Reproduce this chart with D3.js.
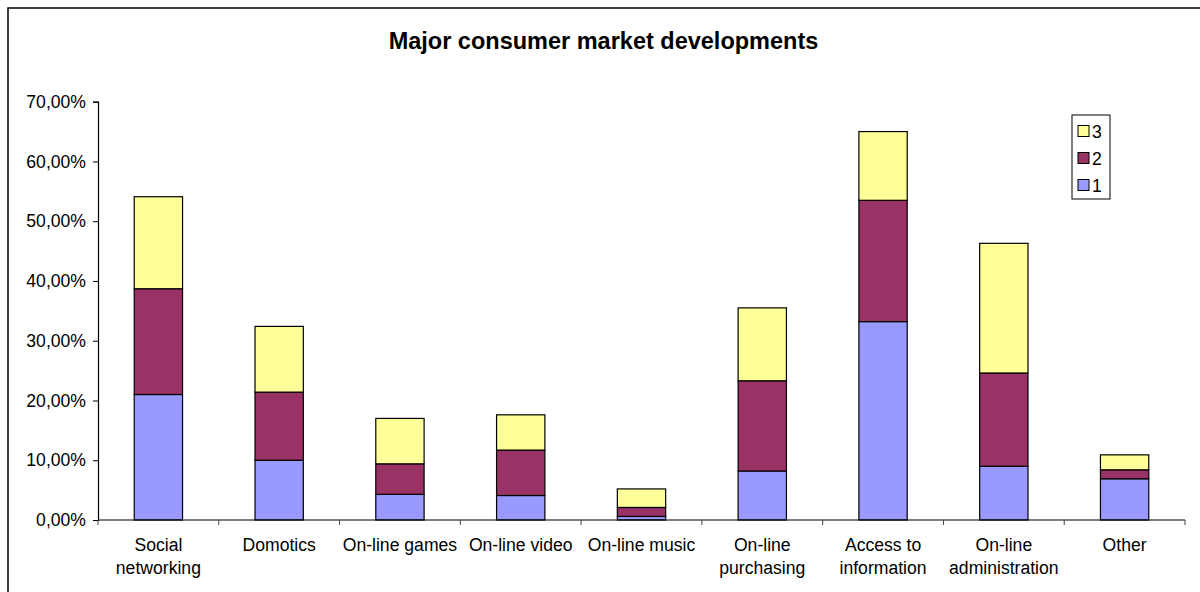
<!DOCTYPE html>
<html>
<head>
<meta charset="utf-8">
<script src="https://cdn.jsdelivr.net/npm/d3@7"></script>
<style>
  body { margin: 0; background: #fff; }
  svg { display: block; font-family: "Liberation Sans", Arial, sans-serif; }
</style>
</head>
<body>
<div class="chart"></div>
<script>
const categories = ["Social networking", "Domotics", "On-line games", "On-line video", "On-line music",
                    "On-line purchasing", "Access to information", "On-line administration", "Other"];
const series1 = [21.0, 10.0, 4.3, 4.1, 0.6, 8.2, 33.2, 9.0, 6.9];
const series2 = [17.7, 11.4, 5.1, 7.6, 1.5, 15.1, 20.3, 15.6, 1.5];
const series3 = [15.4, 11.0, 7.6, 5.9, 3.1, 12.2, 11.5, 21.7, 2.5];
const seriesNames = ["1", "2", "3"];
const seriesColors = ["#9999ff", "#993366", "#ffff99"];
const yTicks = [0, 10, 20, 30, 40, 50, 60, 70];
// labels broken over two lines like the original
const labelLines = [["Social", "networking"], ["Domotics"], ["On-line games"], ["On-line video"], ["On-line music"],
                    ["On-line", "purchasing"], ["Access to", "information"], ["On-line", "administration"], ["Other"]];

const width = 1200, height = 592;
const fontSize = 17.6;
const svg = d3.select(".chart").append("svg")
    .attr("width", width)
    .attr("height", height);

// outer chart frame (runs off the right/bottom edge like the screenshot)
svg.append("rect")
    .attr("x", 8).attr("y", 8)
    .attr("width", 1210).attr("height", 610)
    .attr("fill", "none")
    .attr("stroke", "#000")
    .attr("stroke-width", 1.5);

svg.append("text")
    .attr("x", 603.5).attr("y", 49)
    .attr("text-anchor", "middle")
    .attr("font-size", 23.5)
    .attr("font-weight", "bold")
    .text("Major consumer market developments");

const plotLeft = 98, plotRight = 1185, plotTop = 101.7, plotBottom = 520;

const x = d3.scaleBand()
    .domain(categories)
    .range([plotLeft, plotRight])
    .paddingInner(0.6)
    .paddingOuter(0.3);

const y = d3.scaleLinear()
    .domain([0, 70])
    .range([plotBottom, plotTop]);

const rows = categories.map((c, i) => ({ cat: c, s1: series1[i], s2: series2[i], s3: series3[i] }));
const stacked = d3.stack().keys(["s1", "s2", "s3"])(rows);

// y axis
const yAxis = svg.append("g")
    .attr("transform", "translate(" + plotLeft + ",0)")
    .call(d3.axisLeft(y)
        .tickValues(yTicks)
        .tickSize(5)
        .tickPadding(7)
        .tickFormat(d => d3.format(".2f")(d).replace(".", ",") + "%"));
yAxis.select(".domain").attr("stroke", "#000").attr("stroke-width", 1.2);
yAxis.selectAll("text").attr("font-size", fontSize).attr("fill", "#000").attr("font-family", "Liberation Sans, Arial, sans-serif");

// bars
svg.selectAll(".layer")
    .data(stacked)
    .enter().append("g")
    .attr("class", "layer")
    .attr("fill", (d, i) => seriesColors[i])
    .selectAll("rect")
    .data(d => d)
    .enter().append("rect")
    .attr("x", d => x(d.data.cat))
    .attr("y", d => y(d[1]))
    .attr("width", x.bandwidth())
    .attr("height", d => y(d[0]) - y(d[1]))
    .attr("stroke", "#000")
    .attr("stroke-width", 1.2);

// x axis line and ticks at category boundaries
const step = x.step();
const xStart = x(categories[0]) - step * x.paddingOuter();
svg.append("line")
    .attr("x1", plotLeft).attr("x2", plotRight)
    .attr("y1", plotBottom).attr("y2", plotBottom)
    .attr("stroke", "#000").attr("stroke-width", 1.2);
svg.selectAll(".xtick")
    .data(d3.range(categories.length + 1))
    .enter().append("line")
    .attr("x1", i => xStart + i * step).attr("x2", i => xStart + i * step)
    .attr("y1", plotBottom).attr("y2", plotBottom + 5)
    .attr("stroke", "#444").attr("stroke-width", 1);

const xl = svg.selectAll(".xlabel")
    .data(categories)
    .enter().append("text")
    .attr("class", "xlabel")
    .attr("text-anchor", "middle")
    .attr("font-size", fontSize)
    .attr("x", d => x(d) + x.bandwidth() / 2)
    .attr("y", 551);
xl.selectAll("tspan")
    .data((d, i) => labelLines[i])
    .enter().append("tspan")
    .attr("x", function() { return this.parentNode.getAttribute("x"); })
    .attr("dy", (d, i) => i === 0 ? 0 : 23)
    .text(String);

// legend
const legend = svg.append("g").attr("transform", "translate(1072,115)");
legend.append("rect")
    .attr("width", 38).attr("height", 84)
    .attr("fill", "#fff").attr("stroke", "#000").attr("stroke-width", 1);
const legendItems = [2, 1, 0];
legendItems.forEach((s, k) => {
    const cy = 16 + k * 27;
    legend.append("rect")
        .attr("x", 6).attr("y", cy - 5.5)
        .attr("width", 11).attr("height", 11)
        .attr("fill", seriesColors[s])
        .attr("stroke", "#000").attr("stroke-width", 1);
    legend.append("text")
        .attr("x", 20).attr("y", cy + 6.5)
        .attr("font-size", fontSize)
        .text(seriesNames[s]);
});
</script>
</body>
</html>
